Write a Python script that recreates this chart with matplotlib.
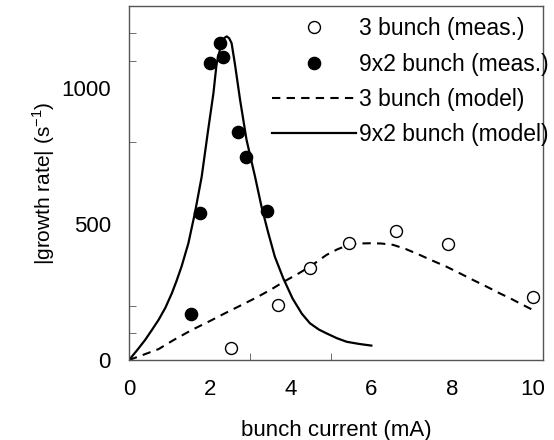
import matplotlib
matplotlib.use("Agg")
import matplotlib.pyplot as plt

plt.rcParams['font.family'] = ['Liberation Sans', 'DejaVu Sans']
plt.rcParams['mathtext.fontset'] = 'custom'
plt.rcParams['mathtext.rm'] = 'Liberation Sans'

# 9x2 bunch measurements
meas92_x = [1.53, 1.76, 2.00, 2.25, 2.33, 2.69, 2.90, 3.41]
meas92_y = [169, 540, 1093, 1164, 1112, 839, 744, 549]

# 3 bunch measurements
meas3_x = [2.52, 3.70, 4.48, 5.45, 6.61, 7.89, 10.0]
meas3_y = [43, 202, 337, 429, 475, 425, 233]

# 9x2 bunch model
model92_x = [0.0, 0.20, 0.40, 0.56, 0.73, 0.90, 1.06, 1.18, 1.30, 1.47, 1.63, 1.80, 1.96, 2.09, 2.17,
             2.29, 2.36, 2.42, 2.48, 2.54, 2.62, 2.75, 2.91, 3.12, 3.28, 3.45, 3.61, 3.82, 4.05,
             4.28, 4.48, 4.70, 4.89, 5.15, 5.39, 5.70, 6.0]
model92_y = [0, 36, 74, 109, 147, 192, 245, 292, 343, 429, 539, 674, 846, 980, 1090,
             1164, 1183, 1189, 1182, 1164, 1090, 956, 809, 674, 564, 466, 380, 300, 226,
             170, 135, 112, 98, 80, 67, 59, 53]

# 3 bunch model
model3_x = [0.0, 0.35, 0.73, 1.10, 1.55, 2.00, 2.38, 2.80, 3.20, 3.55, 3.86, 4.20, 4.48, 4.89, 5.15,
            5.43, 5.70, 5.97, 6.25, 6.54, 6.85, 7.20, 7.50, 7.86, 8.20, 8.52, 8.85, 9.18, 9.45, 9.68, 10.0]
model3_y = [0, 19, 40, 73, 110, 143, 172, 203, 233, 262, 290, 318, 343, 386, 406,
            423, 428, 429, 428, 423, 408, 386, 366, 343, 318, 294, 270, 245, 226, 208, 184]

xtick_labels = [0, 2, 4, 6, 8, 10]
xtick_marks = [2, 3, 5, 8, 10]
ytick_labels = [0, 500, 1000]
ytick_marks = [100, 200, 500, 800, 1100, 1200]

fig = plt.figure(figsize=(5.54, 4.4), dpi=100)
ax = fig.add_axes([0.2329, 0.1818, 0.980 - 0.2329, 0.986 - 0.1818])

ax.plot(meas3_x, meas3_y, 'o', ms=8.6, mfc='white', mec='black', mew=1.0, ls='none',
        label='3 bunch (meas.)', zorder=3)
ax.plot(meas92_x, meas92_y, 'o', ms=8.8, mfc='black', mec='black', ls='none',
        label='9x2 bunch (meas.)', zorder=3)
ax.plot(model3_x, model3_y, color='black', lw=1.5, ls=(0, (4, 3)), label='3 bunch (model)')
ax.plot(model92_x, model92_y, color='black', lw=1.6, ls='-', label='9x2 bunch (model)',
        solid_joinstyle='round')

ax.set_xlim(0, 10.25)
ax.set_ylim(0, 1300)

ax.set_xticks(xtick_labels)
ax.set_xticklabels([str(v) for v in xtick_labels])
ax.set_xticks(xtick_marks, minor=True)
ax.set_yticks(ytick_labels)
ax.set_yticklabels([str(v) for v in ytick_labels])
ax.set_yticks(ytick_marks, minor=True)
ax.tick_params(which='major', length=0, labelsize=16)
ax.tick_params(axis='x', which='major', pad=14)
ax.tick_params(axis='y', which='major', pad=13)
ax.tick_params(which='minor', length=5, direction='in', color='#555555')

for s in ax.spines.values():
    s.set_color('#555555')
    s.set_linewidth(1.0)

ax.set_xlabel('bunch current (mA)', fontsize=16, labelpad=14)
ax.set_ylabel('|growth rate| (s$^{-1}$)', fontsize=15, labelpad=3)

leg = ax.legend(loc='upper right', bbox_to_anchor=(1.046, 1.007), frameon=False, fontsize=16.5,
                handlelength=3.7, handletextpad=0.1, labelspacing=0.53, borderaxespad=0.2)

fig.savefig('out.png', dpi=100, facecolor='white')
